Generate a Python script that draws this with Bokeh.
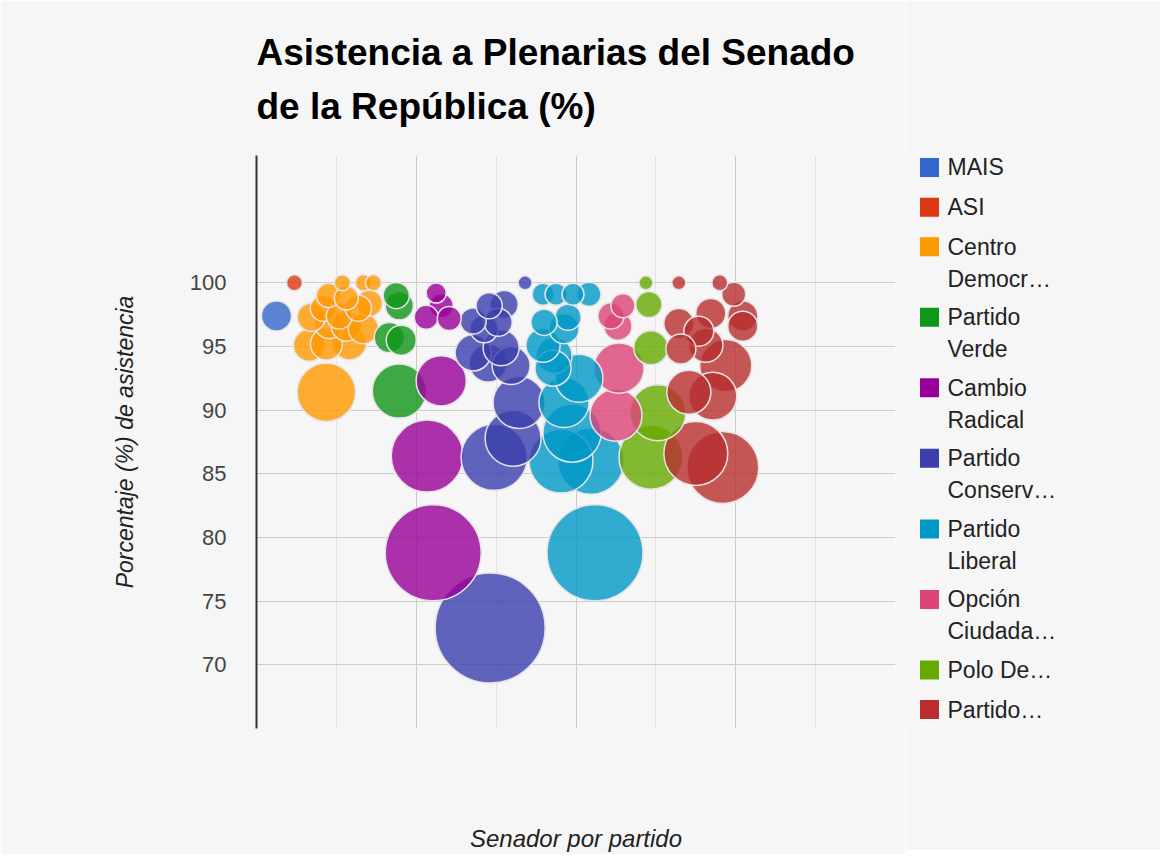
import math
from bokeh.plotting import figure
from bokeh.models import Range1d, FixedTicker, Title, ColumnDataSource
from bokeh.layouts import row
from bokeh.embed import file_html
from bokeh.resources import INLINE
from bokeh.core.properties import value

FONT = "Liberation Sans"

titulo = ["Asistencia a Plenarias del Senado", "de la República (%)"]
partidos = ["MAIS", "ASI", "Centro Democrático", "Partido Verde", "Cambio Radical",
            "Partido Conservador", "Partido Liberal", "Opción Ciudadana",
            "Polo Democrático", "Partido de la U"]
colores = ["#3366cc", "#dc3912", "#ff9900", "#109618", "#990099",
           "#3b3eac", "#0099c6", "#dd4477", "#66aa00", "#b82e2e"]
etiquetas = [["MAIS"], ["ASI"], ["Centro", "Democr…"], ["Partido", "Verde"],
             ["Cambio", "Radical"], ["Partido", "Conserv…"], ["Partido", "Liberal"],
             ["Opción", "Ciudada…"], ["Polo De…"], ["Partido…"]]

# senador (posición), asistencia (%), inasistencias (tamaño de burbuja)
mais_x = [5]
mais_y = [97.4]
mais_s = [5]

asi_x = [9.5]
asi_y = [100]
asi_s = [0.6]

cd_x = [21.5, 26.75, 29.25, 18, 22.5, 28.25, 16.75, 20.75, 25.5, 13.75, 18.25, 22.5, 26.75, 13.25, 17.5, 23.25, 17.5]
cd_y = [100, 100, 100, 99.0, 98.8, 98.4, 98.0, 97.4, 98.0, 97.3, 96.8, 96.6, 96.4, 95.1, 95.2, 95.3, 91.4]
cd_s = [0.6, 0.6, 0.6, 3.1, 3.1, 3.8, 3.8, 3.8, 3.8, 4.4, 5, 5, 5, 5.6, 5.6, 6.3, 13.8]

verde_x = [35, 35.75, 33.25, 36.25, 35.75]
verde_y = [99.0, 98.2, 95.7, 95.5, 91.5]
verde_s = [3.8, 4.4, 5, 5, 12.5]

cr_x = [45, 46.25, 42.5, 48.25, 46.25, 42.75, 44.25]
cr_y = [99.2, 98.2, 97.3, 97.2, 92.3, 86.4, 78.8]
cr_s = [1.9, 3.1, 3.1, 3.1, 11.3, 18.1, 25.6]

cons_x = [67.25, 54.25, 58.25, 62, 57, 60.5, 54.25, 61.25, 58, 63.75, 65.75, 64.25, 59.5, 58.5]
cons_y = [100, 97.0, 98.2, 98.3, 96.4, 96.9, 94.5, 94.9, 93.7, 93.5, 90.6, 87.8, 86.3, 72.9]
cons_s = [0, 3.8, 3.8, 4.4, 4.4, 4.4, 6.9, 6.9, 7.5, 7.5, 11.9, 13.1, 16.3, 30]

lib_x = [71.75, 75, 79.25, 83.25, 78, 72, 77, 71.75, 74.5, 74.25, 80.75, 77, 79, 76.25, 83.75, 84.75]
lib_y = [99.1, 99.1, 99.1, 99.1, 97.3, 96.9, 96.4, 95.1, 94.3, 93.3, 92.5, 90.6, 88.2, 86.0, 86.0, 78.8]
lib_s = [2.5, 2.5, 2.5, 3.1, 3.8, 3.8, 5, 6.3, 6.9, 6.9, 10.6, 11.3, 13.8, 15.6, 16.3, 25.6]

oc_x = [88.75, 91.75, 90.5, 90.75, 90]
oc_y = [97.4, 98.2, 96.6, 93.3, 89.6]
oc_s = [3.8, 3.1, 4.4, 11.3, 11.9]

polo_x = [97.5, 98.25, 98.75, 100.5, 98.75]
polo_y = [100, 98.3, 94.9, 89.8, 86.3]
polo_s = [0, 3.8, 6.3, 13.1, 15.6]

u_x = [105.75, 116, 119.5, 113.75, 121.75, 105.75, 110.75, 121.75, 106.25, 112.5, 117.5, 108.25, 114.25, 110, 116.75]
u_y = [100, 100, 99.1, 97.6, 97.4, 96.8, 96.2, 96.6, 94.8, 95.1, 93.5, 91.4, 91.1, 86.6, 85.5]
u_s = [0, 0.6, 3.1, 5, 5, 5, 5, 5, 5, 6.3, 11.9, 9.4, 10.6, 15.6, 18.1]

y_ticks = [70, 75, 80, 85, 90, 95, 100]
x_grid_major = [40, 80, 120, 160]
x_grid_minor = [20, 60, 100, 140]

series = [(mais_x, mais_y, mais_s), (asi_x, asi_y, asi_s), (cd_x, cd_y, cd_s),
          (verde_x, verde_y, verde_s), (cr_x, cr_y, cr_s), (cons_x, cons_y, cons_s),
          (lib_x, lib_y, lib_s), (oc_x, oc_y, oc_s), (polo_x, polo_y, polo_s),
          (u_x, u_y, u_s)]

# bubble radius scale (px): min radius 7, +1.6 px per unit of size
def diam(s):
    return 2 * (7 + 1.6 * s)

rows = []
for i, (xs, ys, ss) in enumerate(series):
    for x, y, s in zip(xs, ys, ss):
        rows.append((s, x, y, colores[i], partidos[i]))
rows.sort(key=lambda r: -r[0])  # larger bubbles drawn first
src = ColumnDataSource(dict(
    x=[r[1] for r in rows], y=[r[2] for r in rows],
    size=[diam(r[0]) for r in rows], color=[r[3] for r in rows],
    partido=[r[4] for r in rows]))

BG = "#f6f6f6"
FRAME_L, FRAME_T, FRAME_W, FRAME_H, H = 256, 155, 639, 573, 850
p = figure(frame_width=FRAME_W, frame_height=FRAME_H, min_border_left=FRAME_L,
           min_border_right=10, min_border_top=FRAME_T,
           min_border_bottom=H - FRAME_T - FRAME_H,
           x_range=Range1d(0, 160), y_range=Range1d(65, 110),
           output_backend="svg", toolbar_location=None, title=None)
p.background_fill_color = BG
p.border_fill_color = BG
p.outline_line_color = None

p.scatter("x", "y", size="size", source=src, fill_color="color", fill_alpha=0.8,
          line_color="#e6e3e6", line_width=1.5)

# axes
p.yaxis.ticker = FixedTicker(ticks=y_ticks)
p.yaxis.axis_line_color = "#333333"
p.yaxis.axis_line_width = 2
p.yaxis.major_tick_line_color = None
p.yaxis.minor_tick_line_color = None
p.yaxis.major_label_text_font = FONT
p.yaxis.major_label_text_font_size = "22px"
p.yaxis.major_label_text_color = "#444444"
p.yaxis.major_label_standoff = 24
p.yaxis.axis_label = "Porcentaje (%) de asistencia"
p.yaxis.axis_label_text_font = FONT
p.yaxis.axis_label_text_font_size = "23px"
p.yaxis.axis_label_text_font_style = "italic"
p.yaxis.axis_label_text_color = "#222222"
p.yaxis.axis_label_standoff = 49

p.xaxis.ticker = FixedTicker(ticks=[])
p.xaxis.axis_line_color = None
p.xaxis.major_tick_line_color = None
p.xaxis.minor_tick_line_color = None
p.xaxis.axis_label = "Senador por partido"
p.xaxis.axis_label_text_font = FONT
p.xaxis.axis_label_text_font_size = "24px"
p.xaxis.axis_label_text_font_style = "italic"
p.xaxis.axis_label_text_color = "#222222"
p.xaxis.axis_label_standoff = 96

p.xgrid.ticker = FixedTicker(ticks=x_grid_major, minor_ticks=x_grid_minor)
p.xgrid.grid_line_color = "#cccccc"
p.xgrid.minor_grid_line_color = "#e2e2e2"
p.ygrid.grid_line_color = "#cccccc"

# title (two lines)
p.add_layout(Title(text="\n".join(titulo), align="left", text_font=FONT,
                   text_font_size="37px", text_font_style="bold", text_color="#000000",
                   text_line_height=1.33, standoff=56), "above")

# legend panel (its frame is aligned with the main frame; data units = page px)
LW = 255
x0 = FRAME_L + FRAME_W + 10
lg = figure(width=LW, height=H, x_range=Range1d(x0, x0 + LW),
            y_range=Range1d(FRAME_T + FRAME_H, FRAME_T),
            output_backend="svg", toolbar_location=None, min_border=0)
lg.axis.visible = False
lg.grid.visible = False
lg.outline_line_color = None
lg.background_fill_color = BG
lg.border_fill_color = BG

sq_x, sq_y, tx, ty, tt = [], [], [], [], []
yy = 167
for lines in etiquetas:
    sq_x.append(929)
    sq_y.append(yy)
    for k, t in enumerate(lines):
        tx.append(947)
        ty.append(yy + 32 * k)
        tt.append(t)
    yy += 40 if len(lines) == 1 else 71
lg.scatter(sq_x, sq_y, marker="square", size=19, fill_color=colores, line_color=None)
lg.text(tx, ty, text=tt, text_font=value(FONT), text_font_size="23px",
        text_color="#222222", text_baseline="middle", text_align="left")

layout = row(p, lg)
open("out.html", "w").write(file_html(layout, INLINE))
